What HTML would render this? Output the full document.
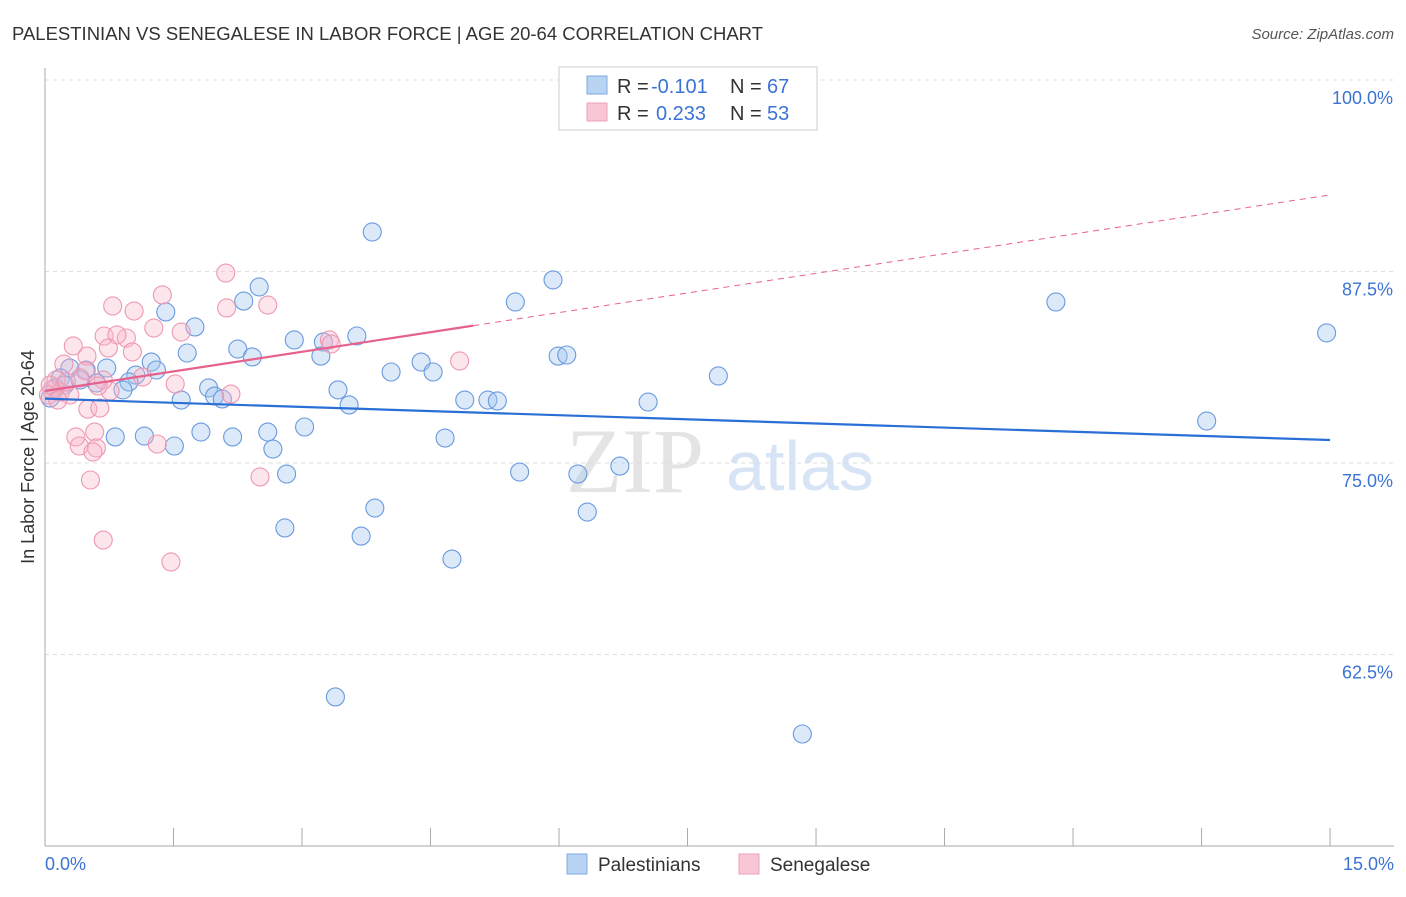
<!DOCTYPE html>
<html><head><meta charset="utf-8"><style>
body{margin:0;background:#fff;font-family:"Liberation Sans",sans-serif;}
</style></head><body>
<svg id="c" width="1406" height="892" xmlns="http://www.w3.org/2000/svg">
<text x="12" y="40" font-size="18" fill="#333" textLength="751" lengthAdjust="spacingAndGlyphs">PALESTINIAN VS SENEGALESE IN LABOR FORCE | AGE 20-64 CORRELATION CHART</text>
<text x="1394" y="39" font-size="15" fill="#555" text-anchor="end" font-style="italic">Source: ZipAtlas.com</text>
<text x="635" y="492" font-size="92" fill="#e4e4e4" font-family="Liberation Serif,serif" text-anchor="middle">ZIP</text>
<text x="800" y="490" font-size="70" fill="#d6e4f5" text-anchor="middle">atlas</text>
<g id="grid"></g><g id="marks"></g>
<text transform="translate(34,457) rotate(-90)" font-size="18" fill="#333" text-anchor="middle">In Labor Force | Age 20-64</text>
<text x="45" y="870" font-size="18" fill="#3b73d4">0.0%</text>
<text x="1394" y="870" font-size="18" fill="#3b73d4" text-anchor="end">15.0%</text>
<g>
<rect x="559" y="67" width="258" height="63" fill="#fff" stroke="#ccc"/>
<rect x="587" y="76" width="20" height="18" fill="#b9d3f3" stroke="#7fa9e0"/>
<rect x="587" y="103" width="20" height="18" fill="#f8c6d5" stroke="#eea0b8"/>
<text x="617" y="93" font-size="20" fill="#333">R =</text>
<text x="651" y="93" font-size="20" fill="#3b73d4">-0.101</text>
<text x="730" y="93" font-size="20" fill="#333">N =</text>
<text x="767" y="93" font-size="20" fill="#3b73d4">67</text>
<text x="617" y="120" font-size="20" fill="#333">R =</text>
<text x="656" y="120" font-size="20" fill="#3b73d4">0.233</text>
<text x="730" y="120" font-size="20" fill="#333">N =</text>
<text x="767" y="120" font-size="20" fill="#3b73d4">53</text>
</g>
<g>
<rect x="567" y="854" width="20" height="20" fill="#b9d3f3" stroke="#7fa9e0"/>
<text x="598" y="871" font-size="19" fill="#333">Palestinians</text>
<rect x="739" y="854" width="20" height="20" fill="#f8c6d5" stroke="#eea0b8"/>
<text x="770" y="871" font-size="19" fill="#333">Senegalese</text>
</g>
</svg>
<script>
const yTicks=[100,87.5,75,62.5];
const yTickLabels=["100.0%","87.5%","75.0%","62.5%"];
const bluePx=[[372,232],[259,287],[244,301],[166,312],[195,327],[553,280],[515,302],[1056,302],[1327,333],[294,340],[323,342],[357,336],[238,349],[252,357],[187,353],[151,362],[321,356],[558,356],[567,355],[421,362],[433,372],[391,372],[156,370],[136,375],[107,368],[86,370],[70,368],[129,382],[123,390],[96,383],[338,390],[209,388],[215,396],[222,399],[181,400],[349,405],[465,400],[488,400],[497,401],[648,402],[718,376],[1207,421],[115,437],[144,436],[174,446],[201,432],[233,437],[268,432],[273,449],[305,427],[445,438],[287,474],[520,472],[578,474],[620,466],[375,508],[587,512],[285,528],[361,536],[452,559],[335,697],[802,734],[60,378],[55,388],[50,398],[65,385],[80,380]];
const pinkPx=[[226,273],[162,295],[113,306],[134,311],[268,305],[227,308],[154,328],[181,332],[104,336],[126,338],[117,335],[73,346],[108,348],[132,352],[87,356],[64,364],[329,340],[331,344],[460,361],[85,371],[80,378],[143,377],[110,391],[175,384],[231,394],[103,380],[98,386],[88,409],[100,408],[76,437],[79,446],[95,432],[96,448],[93,452],[157,444],[90,480],[260,477],[103,540],[171,562],[56,380],[52,390],[48,395],[60,392],[70,395],[50,385],[66,382],[58,400]];
const blueX=bluePx.map(p=>+((p[0]-45)/85.67).toFixed(2));
const blueY=bluePx.map(p=>+(100-(p[1]-80)/15.32).toFixed(2));
const pinkX=pinkPx.map(p=>+((p[0]-45)/85.67).toFixed(2));
const pinkY=pinkPx.map(p=>+(100-(p[1]-80)/15.32).toFixed(2));
const blueTrend=[79.2,76.5];
const pinkTrend=[79.7,92.5];
const X=v=>45+v*85.67, Y=v=>80+(100-v)*15.32;
const NS="http://www.w3.org/2000/svg";
function mk(t,a,p){const e=document.createElementNS(NS,t);for(const k in a)e.setAttribute(k,a[k]);p.appendChild(e);return e;}
const g=document.getElementById('grid'), m=document.getElementById('marks');
yTicks.forEach((t,i)=>{
 const l=mk('line',{x1:45,x2:1394,y1:Y(t),y2:Y(t),stroke:'#ddd','stroke-dasharray':'4,4'},g);
 
 
 const tx=mk('text',{x:1393,y:Y(t)+24,'font-size':18,fill:'#3b73d4','text-anchor':'end'},g);
 tx.textContent=yTickLabels[i];
 
 
});
mk('line',{x1:45,x2:45,y1:68,y2:846,stroke:'#aaa'},g);
mk('line',{x1:45,x2:1394,y1:846,y2:846,stroke:'#aaa'},g);
for(let i=0;i<=10;i++){const x=X(i*1.5);mk('line',{x1:x,x2:x,y1:828,y2:846,stroke:'#aaa'},g);}
bluePx.forEach((_,i)=>{
 const c=mk('circle',{cx:X(blueX[i]),cy:Y(blueY[i]),r:9,fill:'rgba(160,196,240,0.38)',stroke:'#6a9ade','stroke-width':1.1},m);
 
 
});
pinkPx.forEach((_,i)=>{
 const c=mk('circle',{cx:X(pinkX[i]),cy:Y(pinkY[i]),r:9,fill:'rgba(248,180,200,0.35)',stroke:'#ee98b2','stroke-width':1.1},m);
 
 
});
const bl=mk('line',{x1:X(0),y1:Y(blueTrend[0]),x2:X(15),y2:Y(blueTrend[1]),stroke:'#2a6fd6','stroke-width':2.2},m);


const pv=v=>pinkTrend[0]+(pinkTrend[1]-pinkTrend[0])*v/15;
const ps=mk('line',{x1:X(0),y1:Y(pv(0)),x2:X(5),y2:Y(pv(5)),stroke:'#e6618c','stroke-width':2.2},m);


const pd=mk('line',{x1:X(5),y1:Y(pv(5)),x2:X(15),y2:Y(pv(15)),stroke:'#e6618c','stroke-width':1,'stroke-dasharray':'6,5'},m);


</script>
</body></html>
